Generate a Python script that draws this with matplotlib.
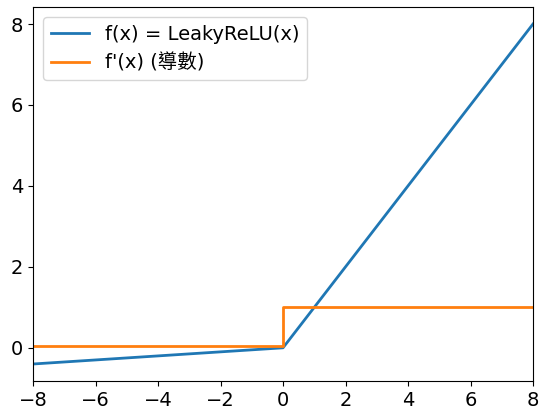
import matplotlib
matplotlib.use('Agg')
import matplotlib.pyplot as plt
import numpy as np

plt.rcParams['font.family'] = ['DejaVu Sans', 'Noto Sans CJK TC']

# LeakyReLU with alpha = 0.05
x_f = [-8, 0, 8]
y_f = [-0.4, 0, 8]
x_df = [-8, 0, 0, 8]
y_df = [0.05, 0.05, 1, 1]

fig = plt.figure(figsize=(5.44, 4.18), dpi=100)
ax = fig.add_axes([33 / 544, 37 / 418, 500 / 544, 374 / 418])

ax.plot(x_f, y_f, color='#1f77b4', lw=2, label='f(x) = LeakyReLU(x)')
ax.plot(x_df, y_df, color='#ff7f0e', lw=2, label="f'(x) (導數)")

ax.set_xlim(-8, 8)
ax.set_xticks(np.arange(-8, 9, 2))
ax.set_yticks([0, 2, 4, 6, 8])
ax.tick_params(labelsize=14)
ax.legend(fontsize=14, loc='upper left')

fig.savefig('out.png', dpi=100)
